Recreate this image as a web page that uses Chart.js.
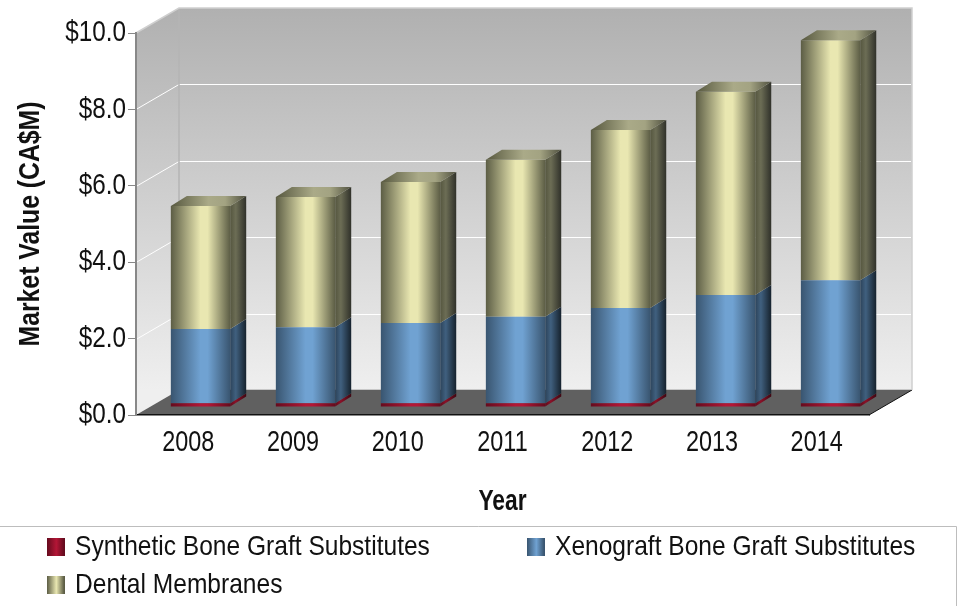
<!DOCTYPE html>
<html>
<head>
<meta charset="utf-8">
<style>html,body{margin:0;padding:0;background:#fff}canvas{display:block}</style>
<script src="https://cdn.jsdelivr.net/npm/chart.js@4"></script>
</head>
<body>
<canvas id="c" width="960" height="606"></canvas>
<script>
const categories = ['2008','2009','2010','2011','2012','2013','2014'];
const synthetic = [0.1,0.1,0.1,0.1,0.1,0.1,0.1];
const xenograft = [1.94,1.99,2.1,2.26,2.49,2.83,3.22];
const dental = [3.22,3.41,3.69,4.11,4.66,5.32,6.28];
const seriesNames = ['Synthetic Bone Graft Substitutes','Xenograft Bone Graft Substitutes','Dental Membranes'];
const yTicks = [0,2,4,6,8,10];

const FONT = '"Liberation Sans",Arial,sans-serif';
const frontShades = [['#650b1e','#b31636'],['#395570','#70a2d2'],['#5c5d45','#e9e7b1']];
const sideShades = [['#5f0c1c','#8a1229','#3f0712'],['#2c435a','#40607f','#16222d'],['#55563f','#6c6d55','#30312a']];
const DEPTH = {x:43, y:-25};
const BAR_D = {x:16, y:-10};
const BAR_FRAC = 0.565;
const BAR_STRETCH = 1.0028;

// The reference type is a condensed Arial: squeeze every text run horizontally around its anchor.
function squeezeFor(text){
  if(text.charAt(0)==='$') return 0.81;
  if(/^\d{4}$/.test(text)) return 0.78;
  if(text==='Year') return 0.76;
  if(text.indexOf('Market')===0) return 0.825;
  return 0.877;
}
function condense(ctx){
  const orig = ctx.fillText.bind(ctx);
  ctx.fillText = function(text,x,y,mw){
    ctx.save();
    ctx.translate(x,y);
    ctx.scale(squeezeFor(String(text)),1);
    orig(text,0,0);
    ctx.restore();
  };
}

function frontGrad(ctx, x0, x1, shade){
  const g = ctx.createLinearGradient(x0,0,x1,0);
  g.addColorStop(0,shade[0]);
  g.addColorStop(0.5,shade[1]);
  g.addColorStop(0.62,shade[1]);
  g.addColorStop(1,shade[0]);
  return g;
}
function barFill(idx){
  return function(c){
    const chart = c.chart;
    if(!chart.chartArea || !chart.scales.x) return frontShades[idx][1];
    const sx = chart.scales.x;
    const cx = sx.getPixelForValue(c.dataIndex);
    const w = sx.width/categories.length*BAR_FRAC;
    return frontGrad(chart.ctx, cx-w/2, cx+w/2, frontShades[idx]);
  };
}
function poly(ctx, pts){
  ctx.beginPath();
  pts.forEach((p,i)=> i?ctx.lineTo(p[0],p[1]):ctx.moveTo(p[0],p[1]));
  ctx.closePath();
}
const scene = {
  id:'scene',
  beforeInit(chart){ condense(chart.ctx); },
  beforeDraw(chart){
    const {ctx, chartArea:a, scales:{y}} = chart;
    const dx=DEPTH.x, dy=DEPTH.y;
    ctx.save();
    ctx.fillStyle='#fff';
    ctx.fillRect(0,0,chart.width,chart.height);
    const wg = ctx.createLinearGradient(0,a.top+dy,0,a.bottom+dy);
    wg.addColorStop(0,'#b0b0b0');
    wg.addColorStop(1,'#efefef');
    ctx.fillStyle=wg;
    poly(ctx,[[a.left,a.top],[a.left+dx,a.top+dy],[a.right+dx,a.top+dy],[a.right+dx,a.bottom+dy],[a.left+dx,a.bottom+dy],[a.left,a.bottom]]);
    ctx.fill();
    ctx.strokeStyle='#fff';
    ctx.lineWidth=1;
    yTicks.slice(1,-1).forEach(v=>{
      const py=Math.round(y.getPixelForValue(v))+0.5;
      ctx.beginPath();
      ctx.moveTo(a.left,py);
      ctx.lineTo(a.left+dx,py+dy);
      ctx.lineTo(a.right+dx-1,py+dy);
      ctx.stroke();
    });
    ctx.lineWidth=1.5;
    ctx.strokeStyle='#b4b4b4';
    ctx.beginPath();ctx.moveTo(a.left+dx,a.top+dy);ctx.lineTo(a.left+dx,a.bottom+dy);ctx.stroke();
    ctx.strokeStyle='#cfcfcf';
    ctx.beginPath();ctx.moveTo(a.left,a.top);ctx.lineTo(a.left+dx,a.top+dy);ctx.lineTo(a.right+dx,a.top+dy);ctx.lineTo(a.right+dx,a.bottom+dy);ctx.stroke();
    ctx.fillStyle='#606060';
    poly(ctx,[[a.left,a.bottom],[a.left+dx,a.bottom+dy],[a.right+dx,a.bottom+dy],[a.right,a.bottom]]);
    ctx.fill();
    ctx.strokeStyle='#111';
    ctx.lineWidth=1;
    ctx.beginPath();ctx.moveTo(a.right,a.bottom);ctx.lineTo(a.right+dx,a.bottom+dy);ctx.stroke();
    ctx.strokeStyle='#c8c8c8';
    ctx.beginPath();ctx.moveTo(a.left+dx,a.bottom+dy-0.5);ctx.lineTo(a.right+dx,a.bottom+dy-0.5);ctx.stroke();
    ctx.restore();
  },
  beforeDatasetsDraw(chart){
    chart.ctx.save();
    // bars stand part-way into the floor depth, with a slightly wider pitch than the labels
    chart.ctx.transform(BAR_STRETCH,0,0,1,11.61,-8);
  },
  afterDatasetsDraw(chart){
    const ctx=chart.ctx;
    const dx=BAR_D.x, dy=BAR_D.y;
    chart.data.datasets.forEach((ds,di)=>{
      chart.getDatasetMeta(di).data.forEach(el=>{
        const p=el.getProps(['x','y','base','width']);
        const r=p.x+p.width/2, l=p.x-p.width/2;
        const sg=ctx.createLinearGradient(r,0,r+dx,0);
        sg.addColorStop(0,sideShades[di][0]);
        sg.addColorStop(0.35,sideShades[di][1]);
        sg.addColorStop(1,sideShades[di][2]);
        ctx.fillStyle=sg;
        poly(ctx,[[r,p.y],[r+dx,p.y+dy],[r+dx,p.base+dy],[r,p.base]]);
        ctx.fill();
        if(di===chart.data.datasets.length-1){
          const tg=ctx.createLinearGradient(l,0,r+dx,0);
          tg.addColorStop(0,'#57583f');
          tg.addColorStop(0.5,'#aaaa88');
          tg.addColorStop(0.72,'#a3a382');
          tg.addColorStop(1,'#505140');
          ctx.fillStyle=tg;
          poly(ctx,[[l,p.y],[l+dx,p.y+dy],[r+dx,p.y+dy],[r,p.y]]);
          ctx.fill();
        }
      });
    });
    ctx.restore();
  },
  afterDraw(chart){
    const ctx=chart.ctx;
    ctx.save();
    ctx.strokeStyle='#bdbdbd';
    ctx.lineWidth=1;
    ctx.beginPath();
    ctx.moveTo(0,526.5);ctx.lineTo(956.5,526.5);ctx.lineTo(956.5,606);
    ctx.stroke();
    const items=[[47,547],[527,547],[47,585]];
    ctx.font='28px '+FONT;
    ctx.textBaseline='middle';
    ctx.textAlign='left';
    seriesNames.forEach((name,i)=>{
      const [x,y]=items[i];
      const g=ctx.createLinearGradient(x,0,x+17,0);
      g.addColorStop(0,frontShades[i][0]);
      g.addColorStop(0.55,frontShades[i][1]);
      g.addColorStop(1,frontShades[i][0]);
      ctx.fillStyle=g;
      ctx.fillRect(x,y-9,18,18);
      ctx.fillStyle='#111';
      ctx.fillText(name,x+28,y);
    });
    ctx.restore();
  }
};
new Chart(document.getElementById('c'),{
  type:'bar',
  data:{
    labels:categories,
    datasets:[synthetic,xenograft,dental].map((d,i)=>({
      label:seriesNames[i],
      data:d,
      backgroundColor:barFill(i),
      borderWidth:0,
      categoryPercentage:1,
      barPercentage:BAR_FRAC,
      clip:false
    }))
  },
  plugins:[scene],
  options:{
    responsive:false,
    animation:false,
    devicePixelRatio:1,
    layout:{padding:{left:0,top:33,right:91,bottom:86}},
    plugins:{legend:{display:false},title:{display:false},tooltip:{enabled:false}},
    scales:{
      x:{
        stacked:true,
        afterFit(s){s.height=105;},
        grid:{display:false,drawTicks:false},
        border:{display:true,color:'#111',width:1.5},
        ticks:{color:'#111',font:{family:FONT,size:30},padding:10,maxRotation:0},
        title:{display:true,text:'Year',color:'#111',font:{family:FONT,size:30,weight:'bold'},padding:{top:0,bottom:0}}
      },
      y:{
        stacked:true,
        min:0,max:10,
        afterFit(s){s.width=136;},
        afterBuildTicks(s){s.ticks=yTicks.map(v=>({value:v}));},
        grid:{drawOnChartArea:false,drawTicks:true,tickLength:8,color:'#888'},
        border:{display:true,color:'#888',width:2},
        ticks:{color:'#111',font:{family:FONT,size:30},padding:2,callback:v=>'$'+Number(v).toFixed(1)},
        title:{display:true,text:'Market Value (CA$M)',color:'#111',font:{family:FONT,size:30,weight:'bold'},padding:{top:13,bottom:0}}
      }
    }
  }
});
</script>
</body>
</html>
